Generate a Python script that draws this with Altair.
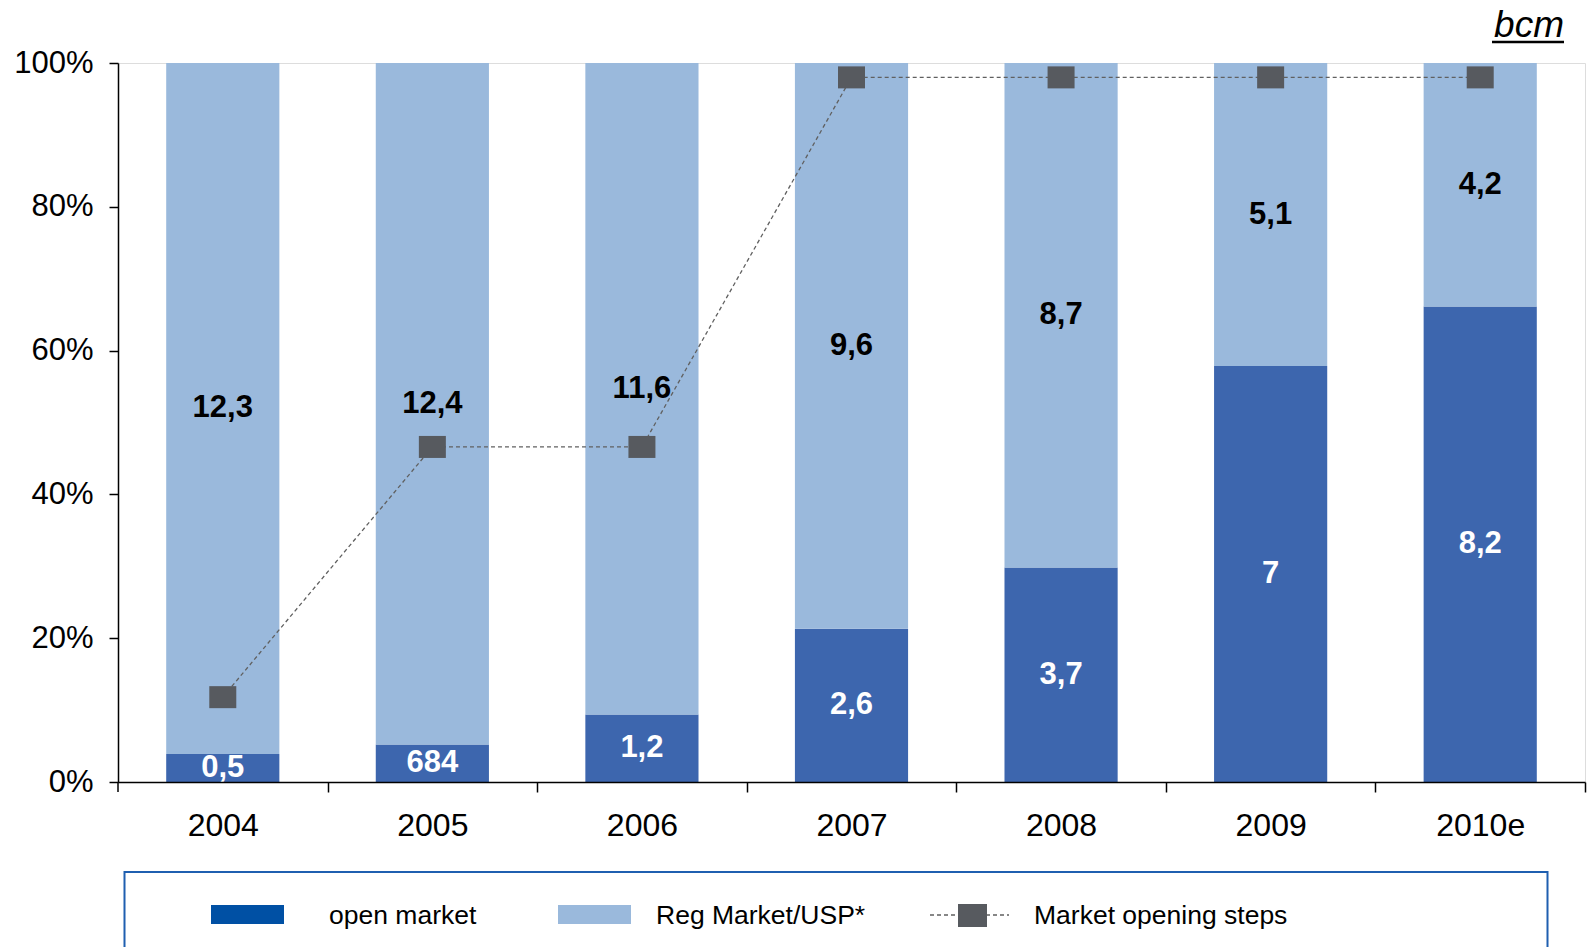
import altair as alt
import pandas as pd

# Gas volumes by year (bcm): open market vs regulated market / USP
years = ["2004", "2005", "2006", "2007", "2008", "2009", "2010e"]
open_market = [0.5, 0.684, 1.2, 2.6, 3.7, 7.0, 8.2]
open_labels = ["0,5", "684", "1,2", "2,6", "3,7", "7", "8,2"]
reg_market = [12.3, 12.4, 11.6, 9.6, 8.7, 5.1, 4.2]
reg_labels = ["12,3", "12,4", "11,6", "9,6", "8,7", "5,1", "4,2"]
# Share of the market legally opened at each step
opening_steps = [0.118, 0.466, 0.466, 0.98, 0.98, 0.98, 0.98]

DARK = "#3d66ae"
LIGHT = "#9ab9dc"
SWATCH_DARK = "#0050a4"
MARKER = "#575a5f"
FONT = "Liberation Sans"

rows = []
for y, o, ol, r, rl in zip(years, open_market, open_labels, reg_market, reg_labels):
    total = o + r
    rows.append({"year": y, "series": "open market", "lo": 0.0, "hi": o / total,
                 "label": ol, "txt": "white"})
    rows.append({"year": y, "series": "Reg Market/USP*", "lo": o / total, "hi": 1.0,
                 "label": rl, "txt": "black"})
bars_df = pd.DataFrame(rows)
bars_df["mid"] = (bars_df["lo"] + bars_df["hi"]) / 2
steps_df = pd.DataFrame({"year": years, "share": opening_steps})

W, H = 1467, 719
HALF_STEP = W / len(years) / 2  # ticks sit between categories

x_enc = alt.X(
    "year:N", sort=years, title=None,
    scale=alt.Scale(paddingInner=0.46, paddingOuter=0.23),
    axis=alt.Axis(labelAngle=0, labelFont=FONT, labelFontSize=32, labelColor="black",
                  labelPadding=18, tickOffset=HALF_STEP, labelOffset=-HALF_STEP,
                  tickSize=10, tickColor="black", tickWidth=1.5,
                  domainColor="black", domainWidth=1.5, grid=False),
)
y_scale = alt.Scale(domain=[0, 1], nice=False)

bars = alt.Chart(bars_df).mark_rect().encode(
    x=x_enc,
    y=alt.Y("lo:Q", scale=y_scale, title=None,
            axis=alt.Axis(format=".0%", values=[0, 0.2, 0.4, 0.6, 0.8, 1.0],
                          labelFont=FONT, labelFontSize=31, labelColor="black",
                          labelPadding=16, tickSize=9, tickColor="black", tickWidth=1.5,
                          domainColor="black", domainWidth=1.5, grid=False)),
    y2="hi:Q",
    color=alt.Color("series:N", scale=alt.Scale(domain=["open market", "Reg Market/USP*"],
                                                range=[DARK, LIGHT]), legend=None),
)

labels = alt.Chart(bars_df).mark_text(
    font=FONT, fontSize=31, fontWeight="bold", baseline="middle", align="center"
).encode(
    x=alt.X("year:N", sort=years),
    y=alt.Y("mid:Q", scale=y_scale),
    text="label:N",
    color=alt.Color("txt:N", scale=None),
)

step_line = alt.Chart(steps_df).mark_line(
    color="#606060", strokeWidth=1.3, strokeDash=[4, 3]
).encode(x=alt.X("year:N", sort=years), y=alt.Y("share:Q", scale=y_scale))

RECT_SHAPE = "M-1,-0.815L1,-0.815L1,0.815L-1,0.815Z"
step_marks = alt.Chart(steps_df).mark_point(
    shape=RECT_SHAPE, size=729, filled=True, opacity=1, color=MARKER, strokeWidth=0
).encode(x=alt.X("year:N", sort=years), y=alt.Y("share:Q", scale=y_scale))

one = pd.DataFrame({"k": [0]})

# Tick at the origin of the category axis
first_tick = alt.Chart(one).mark_rule(color="black", strokeWidth=1.5).encode(
    x=alt.value(0), y=alt.value(H), y2=alt.value(H + 10))

# Unit note above the plot
unit_text = alt.Chart(one).mark_text(
    text="bcm", font=FONT, fontSize=37, fontStyle="italic", align="right",
    baseline="alphabetic", color="black"
).encode(x=alt.value(1446), y=alt.value(-26))
unit_line = alt.Chart(one).mark_rule(color="black", strokeWidth=2.5).encode(
    x=alt.value(1374), x2=alt.value(1446), y=alt.value(-21))

# Legend panel below the axis
box = alt.Chart(one).mark_rect(fill="white", stroke="#1f5fb0", strokeWidth=2).encode(
    x=alt.value(6.5), x2=alt.value(1429.5), y=alt.value(809), y2=alt.value(900))
sw_open = alt.Chart(one).mark_rect(color=SWATCH_DARK).encode(
    x=alt.value(93), x2=alt.value(166), y=alt.value(842), y2=alt.value(861))
sw_reg = alt.Chart(one).mark_rect(color=LIGHT).encode(
    x=alt.value(440), x2=alt.value(513), y=alt.value(842), y2=alt.value(861))
sw_dash = alt.Chart(one).mark_rule(color="#606060", strokeWidth=1.3, strokeDash=[4, 3]).encode(
    x=alt.value(812), x2=alt.value(891), y=alt.value(852))
sw_mark = alt.Chart(one).mark_rect(color=MARKER).encode(
    x=alt.value(840), x2=alt.value(869), y=alt.value(841), y2=alt.value(864))

legend_txt = pd.DataFrame({"t": ["open market", "Reg Market/USP*", "Market opening steps"],
                           "px": [211, 538, 916]})
leg_labels = alt.Chart(legend_txt).mark_text(
    font=FONT, fontSize=26.5, align="left", baseline="middle", color="black"
).encode(x=alt.X("px:Q", scale=None), y=alt.value(853), text="t:N")

chart = alt.layer(
    bars, step_line, step_marks, labels, first_tick, unit_text, unit_line,
    box, sw_open, sw_reg, sw_dash, sw_mark, leg_labels
).properties(
    width=W, height=H, autosize="none",
    padding={"left": 118, "top": 63, "right": 3, "bottom": 165},
).configure_view(stroke="transparent", strokeWidth=0).configure(background="white")

chart.save("out.html", embed_options={"renderer": "svg", "actions": False})
